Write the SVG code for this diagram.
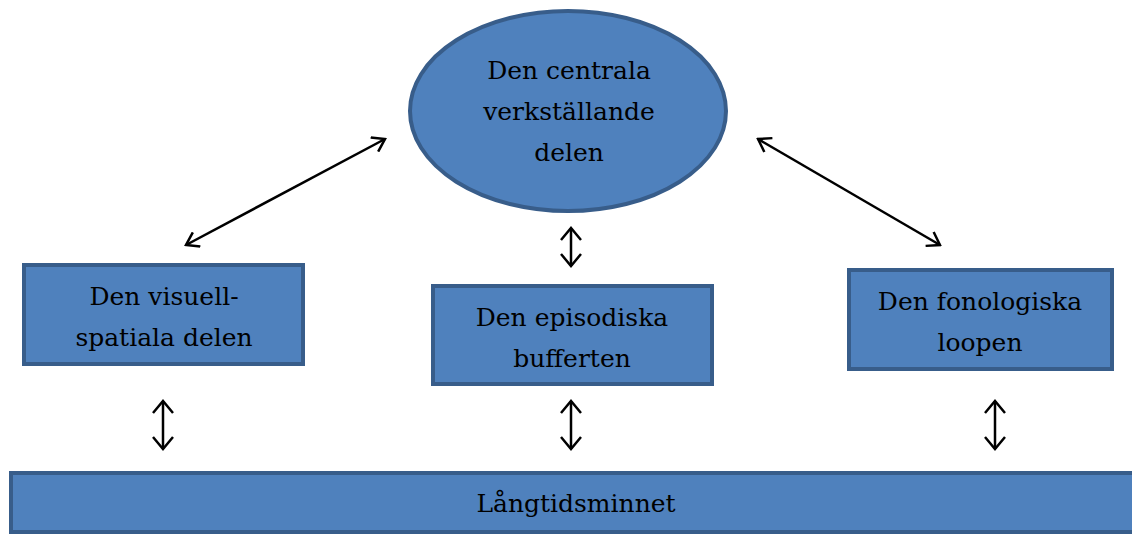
<svg xmlns="http://www.w3.org/2000/svg" width="1132" height="535" viewBox="0 0 1132 535">
<style>
.n{fill:#4f81bd;stroke:#385d8a;stroke-width:4}
.t{font-family:"DejaVu Serif","Liberation Serif",serif;font-size:25px;fill:#000;text-anchor:middle}
.c{stroke:#000;stroke-width:2.5;fill:none;marker-start:url(#ah);marker-end:url(#ah)}
.d{stroke:#000;stroke-width:2.5;fill:none;marker-start:url(#ad);marker-end:url(#ad)}
</style>
<defs>
<marker id="ah" viewBox="0 0 16 22" refX="14" refY="11" markerWidth="16" markerHeight="22" markerUnits="userSpaceOnUse" orient="auto-start-reverse">
<path d="M2,1 L14,11 L2,21" fill="none" stroke="#000" stroke-width="2.5"/>
</marker>
<marker id="ad" viewBox="0 0 16 18" refX="14" refY="9" markerWidth="16" markerHeight="18" markerUnits="userSpaceOnUse" orient="auto-start-reverse">
<path d="M2,1 L14,9 L2,17" fill="none" stroke="#000" stroke-width="2.5"/>
</marker>
</defs>
<rect width="1132" height="535" fill="#fff"/>
<g id="central">
<ellipse class="n" cx="568" cy="111" rx="158" ry="100"/>
<text class="t" x="569" y="79">Den centrala</text>
<text class="t" x="569" y="120">verkställande</text>
<text class="t" x="569" y="161">delen</text>
</g>
<g id="visuell">
<rect class="n" x="24" y="265" width="279" height="99"/>
<text class="t" x="164" y="305">Den visuell-</text>
<text class="t" x="164" y="346">spatiala delen</text>
</g>
<g id="episodisk">
<rect class="n" x="433" y="286" width="279" height="98"/>
<text class="t" x="572" y="326">Den episodiska</text>
<text class="t" x="572" y="367">bufferten</text>
</g>
<g id="fonologisk">
<rect class="n" x="849" y="270" width="263" height="99"/>
<text class="t" x="980" y="310">Den fonologiska</text>
<text class="t" x="980" y="351">loopen</text>
</g>
<g id="langtid">
<rect class="n" x="11" y="473" width="1130" height="59"/>
<text class="t" x="576" y="512">Långtidsminnet</text>
</g>
<g id="connectors">
<line class="d" x1="186" y1="245" x2="385" y2="139"/>
<line class="d" x1="758" y1="139" x2="940" y2="245"/>
<line class="c" x1="571" y1="228" x2="571" y2="266"/>
<line class="c" x1="163" y1="401" x2="163" y2="449"/>
<line class="c" x1="571" y1="401" x2="571" y2="449"/>
<line class="c" x1="995" y1="401" x2="995" y2="449"/>
</g>
</svg>
